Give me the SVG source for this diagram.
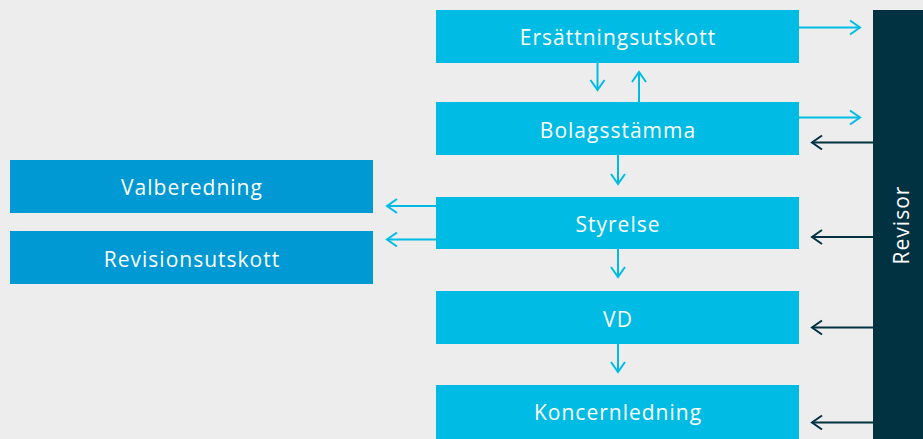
<svg xmlns="http://www.w3.org/2000/svg" width="923" height="439" viewBox="0 0 923 439">
<defs>
<style>
.box{fill:#00bce4}
.lbox{fill:#0099d3}
.t{fill:#ffffff;font-family:"Open Sans","Liberation Sans",sans-serif;font-size:21px;text-anchor:middle;dominant-baseline:central;letter-spacing:1px}
.a{stroke:#00bce4;stroke-width:2;fill:none;marker-end:url(#mb)}
.d{stroke:#003242;stroke-width:2;fill:none;marker-end:url(#md)}
</style>
<marker id="mb" markerUnits="userSpaceOnUse" viewBox="0 0 14 18" refX="12" refY="9" markerWidth="14" markerHeight="18" orient="auto">
<path d="M2,2 L12,9 L2,16" fill="none" stroke="#00bce4" stroke-width="2"/>
</marker>
<marker id="md" markerUnits="userSpaceOnUse" viewBox="0 0 14 18" refX="12" refY="9" markerWidth="14" markerHeight="18" orient="auto">
<path d="M2,2 L12,9 L2,16" fill="none" stroke="#003242" stroke-width="2"/>
</marker>
</defs>
<rect width="923" height="439" fill="#ededed"/>
<g id="revisor">
<rect x="873" y="10" width="50" height="429" fill="#003242"/>
<text class="t" transform="translate(901,225) rotate(-90)">Revisor</text>
</g>
<g id="ersattningsutskott">
<rect class="box" x="436" y="10" width="363" height="53"/>
<text class="t" x="618" y="37">Ersättningsutskott</text>
</g>
<g id="bolagsstamma">
<rect class="box" x="436" y="102" width="363" height="53"/>
<text class="t" x="618" y="129.5">Bolagsstämma</text>
</g>
<g id="styrelse">
<rect class="box" x="436" y="197" width="363" height="52"/>
<text class="t" x="618" y="224">Styrelse</text>
</g>
<g id="vd">
<rect class="box" x="436" y="291" width="363" height="53"/>
<text class="t" x="618" y="318.5">VD</text>
</g>
<g id="koncernledning">
<rect class="box" x="436" y="385" width="363" height="54"/>
<text class="t" x="618" y="412">Koncernledning</text>
</g>
<g id="valberedning">
<rect class="lbox" x="10" y="160" width="363" height="53"/>
<text class="t" x="192" y="187">Valberedning</text>
</g>
<g id="revisionsutskott">
<rect class="lbox" x="10" y="231" width="363" height="53"/>
<text class="t" x="192" y="258.5">Revisionsutskott</text>
</g>
<g id="connectors">
<line class="a" x1="799" y1="27.5" x2="860" y2="27.5"/>
<line class="a" x1="799" y1="117.5" x2="860" y2="117.5"/>
<line class="d" x1="873" y1="142.5" x2="812" y2="142.5"/>
<line class="d" x1="873" y1="237" x2="812" y2="237"/>
<line class="d" x1="873" y1="327.5" x2="812" y2="327.5"/>
<line class="d" x1="873" y1="422.5" x2="812" y2="422.5"/>
<line class="a" x1="597.5" y1="63" x2="597.5" y2="90"/>
<line class="a" x1="639" y1="102" x2="639" y2="72"/>
<line class="a" x1="618" y1="155" x2="618" y2="184"/>
<line class="a" x1="618" y1="249" x2="618" y2="277"/>
<line class="a" x1="618" y1="344" x2="618" y2="372"/>
<line class="a" x1="436" y1="206" x2="387" y2="206"/>
<line class="a" x1="436" y1="239.5" x2="387" y2="239.5"/>
</g>
</svg>
